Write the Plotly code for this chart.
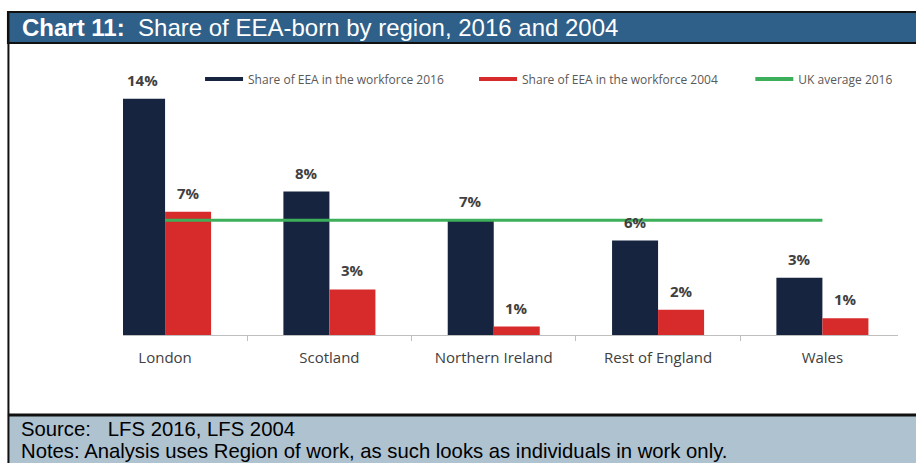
import plotly.graph_objects as go

regions = ["London", "Scotland", "Northern Ireland", "Rest of England", "Wales"]
share_2016 = [14.0, 8.5, 6.8, 5.6, 3.4]
share_2004 = [7.3, 2.7, 0.5, 1.5, 1.0]
labels_2016 = ["14%", "8%", "7%", "6%", "3%"]
labels_2004 = ["7%", "3%", "1%", "2%", "1%"]
uk_average_2016 = 6.8

name_2016 = "Share of EEA in the workforce 2016"
name_2004 = "Share of EEA in the workforce 2004"
name_avg = "UK average 2016"

NAVY = "#16243F"
RED = "#D72B2B"
GREEN = "#3DAF5A"
TITLE_BG = "#2F6089"
SRC_BG = "#AEC2D0"
LABEL = "#404040"

W, H = 916, 463
L, R = 123, 897.6
T, B = 65, 335


def px(x):
    return (x - L) / (R - L)


def py(y):
    return (B - y) / (B - T)


fig = go.Figure()
fig.add_trace(go.Bar(x=regions, y=share_2016, name=name_2016, marker_color=NAVY,
                     marker_line_width=0, showlegend=False))
fig.add_trace(go.Bar(x=regions, y=share_2004, name=name_2004, marker_color=RED,
                     marker_line_width=0, showlegend=False))
fig.add_trace(go.Scatter(x=regions, y=[uk_average_2016] * len(regions), name=name_avg,
                         mode="lines", line=dict(color=GREEN, width=3), showlegend=False))

# legend entries drawn as line samples (as in the original)
for nm, col, lg in [(name_2016, NAVY, "legend"), (name_2004, RED, "legend"),
                    (name_avg, GREEN, "legend2")]:
    fig.add_trace(go.Scatter(x=[None], y=[None], mode="lines", name=nm, legend=lg,
                             line=dict(color=col, width=4), showlegend=True))

annotations = []
for i, r in enumerate(regions):
    annotations.append(dict(x=r, y=share_2016[i], text=labels_2016[i], xref="x", yref="y",
                            showarrow=False, xshift=-23, yanchor="bottom", yshift=7,
                            font=dict(family="Open Sans", size=15, color=LABEL, weight="bold")))
    annotations.append(dict(x=r, y=share_2004[i], text=labels_2004[i], xref="x", yref="y",
                            showarrow=False, xshift=23, yanchor="bottom", yshift=7,
                            font=dict(family="Open Sans", size=15, color=LABEL, weight="bold")))

annotations.append(dict(x=px(20), y=py(28), xref="paper", yref="paper", xanchor="left",
                        yanchor="middle", showarrow=False,
                        text="<b>Chart 11:</b>\u00a0 Share of EEA-born by region, 2016 and 2004",
                        font=dict(family="Liberation Sans", size=24, color="white")))
annotations.append(dict(x=px(19), y=py(429), xref="paper", yref="paper", xanchor="left",
                        yanchor="middle", showarrow=False,
                        text="Source:\u00a0\u00a0 LFS 2016, LFS 2004",
                        font=dict(family="Liberation Sans", size=20.3, color="black")))
annotations.append(dict(x=px(19), y=py(451), xref="paper", yref="paper", xanchor="left",
                        yanchor="middle", showarrow=False,
                        text="Notes: Analysis uses Region of work, as such looks as individuals in work only.",
                        font=dict(family="Liberation Sans", size=20.3, color="black")))

shapes = [
    # title bar
    dict(type="rect", xref="paper", yref="paper", x0=px(8), x1=px(917), y0=py(12), y1=py(43),
         fillcolor=TITLE_BG, line=dict(color="#111111", width=2), layer="below"),
    # source bar
    dict(type="rect", xref="paper", yref="paper", x0=px(8), x1=px(920), y0=py(415), y1=py(470),
         fillcolor=SRC_BG, line=dict(width=0), layer="below"),
    # separator above source
    dict(type="line", xref="paper", yref="paper", x0=px(8), x1=px(920), y0=py(415), y1=py(415),
         line=dict(color="#111111", width=3)),
    # left border
    dict(type="line", xref="paper", yref="paper", x0=px(8.5), x1=px(8.5), y0=py(12), y1=py(470),
         line=dict(color="#111111", width=2)),
]

legend_common = dict(orientation="h", y=py(79), xanchor="left", yanchor="middle",
                     font=dict(family="Open Sans", size=12, color="#595959"),
                     bgcolor="rgba(0,0,0,0)", itemwidth=38, tracegroupgap=0)

fig.update_layout(
    width=W, height=H,
    margin=dict(l=L, r=W - R, t=T, b=H - B),
    paper_bgcolor="white", plot_bgcolor="white",
    barmode="group", bargap=0.44, bargroupgap=0,
    showlegend=True,
    legend=dict(x=px(200), entrywidth=221, entrywidthmode="pixels", **legend_common),
    legend2=dict(x=px(750), **legend_common),
    xaxis=dict(range=[-0.256, 4.46], showline=True, linecolor="#BFBFBF", linewidth=1,
               ticks="outside", tickson="boundaries", ticklen=5, tickcolor="#BFBFBF",
               ticklabelstandoff=9, showgrid=False, zeroline=False, fixedrange=True,
               tickfont=dict(family="Open Sans", size=15, color=LABEL)),
    yaxis=dict(range=[0, 16], visible=False, showgrid=False, zeroline=False, fixedrange=True),
    annotations=annotations,
    shapes=shapes,
    font=dict(family="Open Sans"),
)

fig.write_html("out.html")
